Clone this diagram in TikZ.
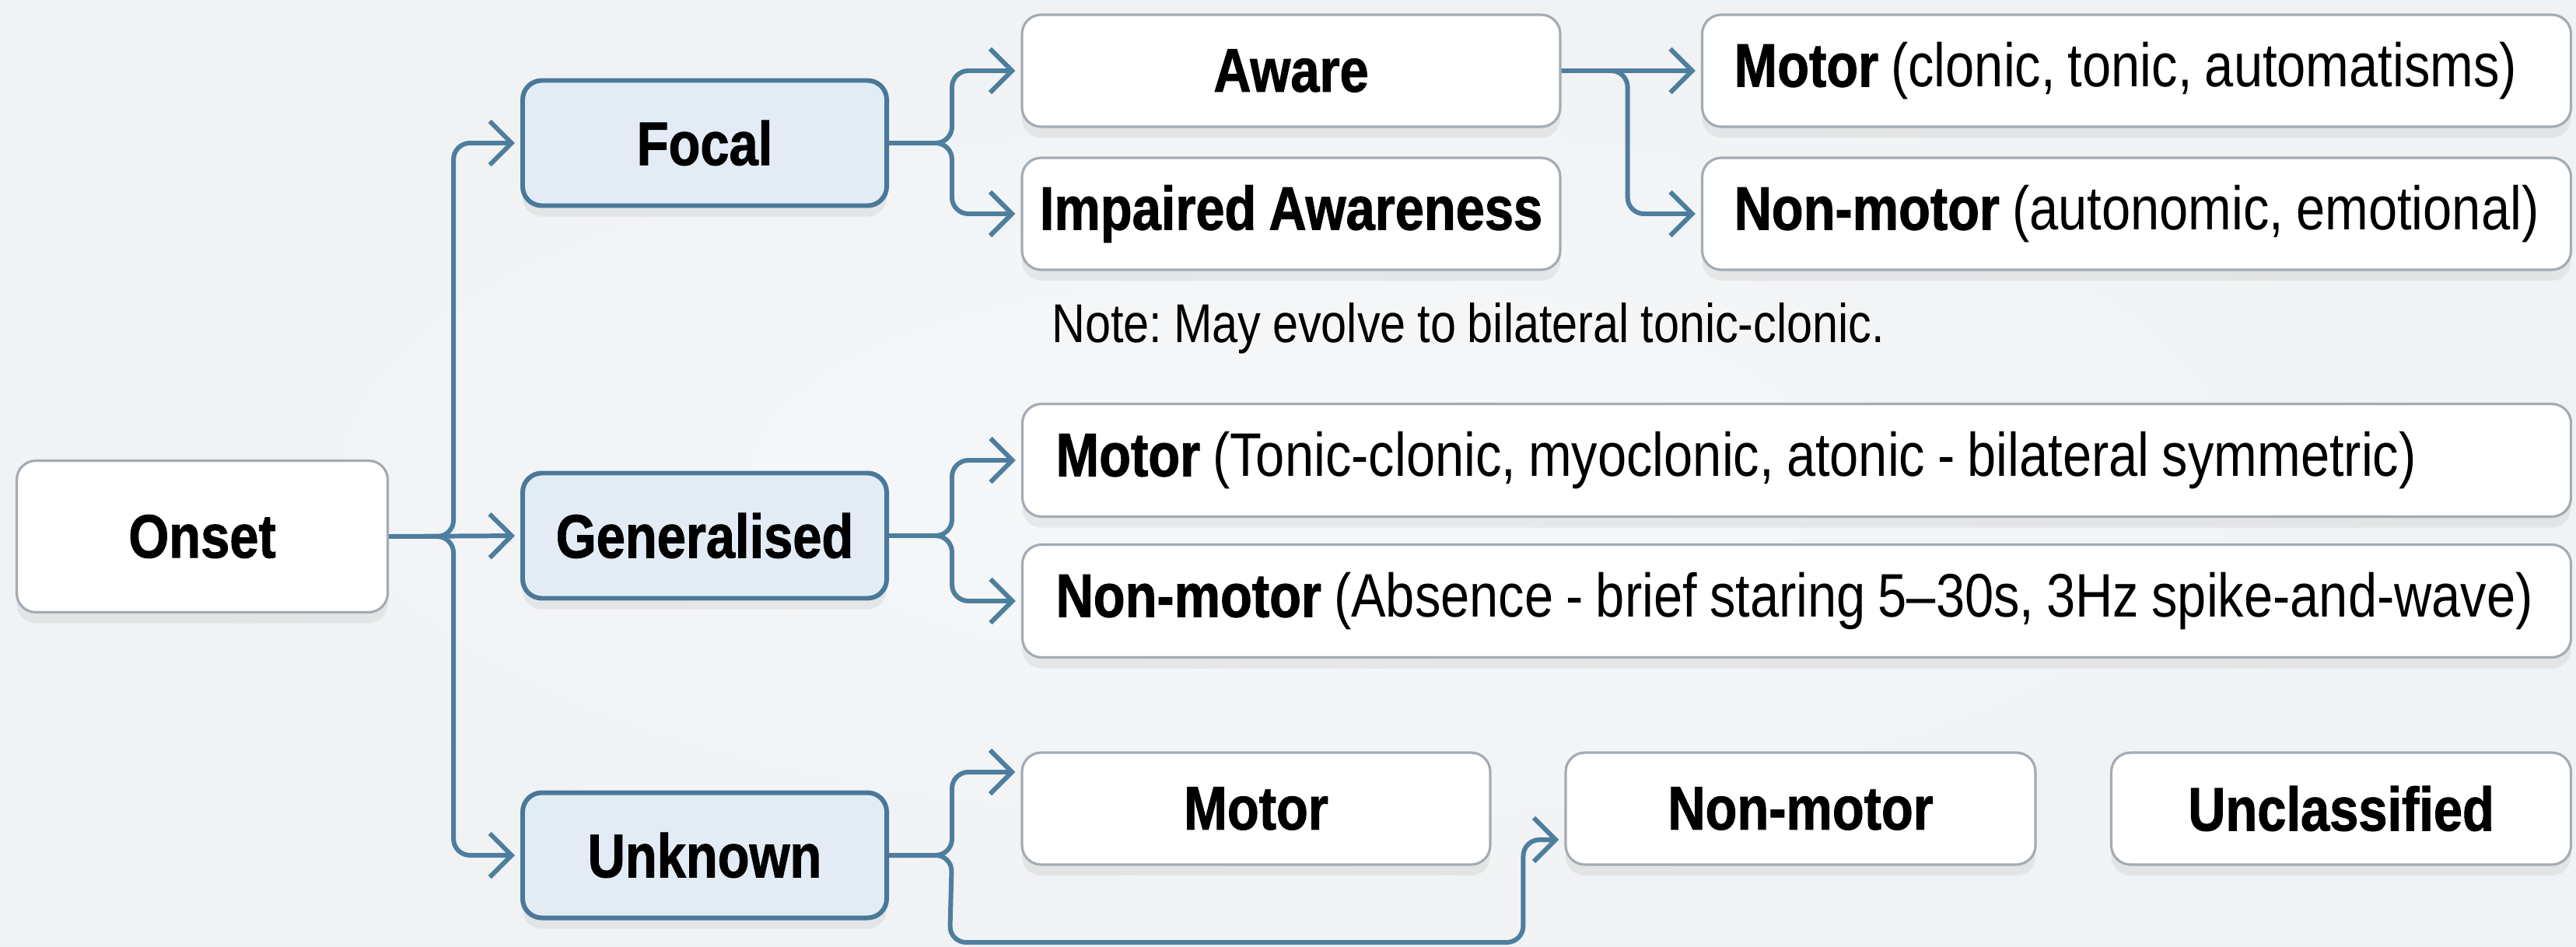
\documentclass[tikz,border=0pt]{standalone}
\usepackage{fontspec}
\setmainfont{Liberation Sans}[FakeStretch=0.845, BoldFeatures={FakeBold=1.2}]
\usepackage{xcolor}
\usetikzlibrary{arrows.meta,shadows}

\definecolor{linkblue}{HTML}{4E7E9E}
\definecolor{catfill}{HTML}{E3ECF5}
\definecolor{catedge}{HTML}{4A7898}
\definecolor{leafedge}{HTML}{A3ABB3}
\definecolor{pagebg}{HTML}{F2F4F6}

\frenchspacing
\newcommand{\boxline}[2]{\makebox[#1][l]{#2}}
\newcommand{\boxfont}{\fontsize{22.5}{27}\selectfont\spaceskip=4.6pt\relax}
\newcommand{\notefont}{\fontsize{20}{24}\selectfont\spaceskip=4.2pt\relax}

\begin{document}
\begin{tikzpicture}[
    box/.style={draw=leafedge, line width=0.9pt, fill=white, rounded corners=7pt,
        minimum height=1.44cm, inner sep=0pt, font=\boxfont,
        drop shadow={opacity=0.12, shadow xshift=0pt, shadow yshift=-4pt}},
    catbox/.style={box, draw=catedge, line width=1.7pt, fill=catfill,
        minimum width=4.68cm, minimum height=1.61cm},
    link/.style={draw=linkblue, line width=1.7pt, rounded corners=6pt,
        -{Straight Barb[length=8pt,width=16pt,line width=1.7pt]}, shorten >=2pt}
]
            \useasboundingbox (0,0) rectangle (33.12,12.17);
            \shade[inner color=white, outer color=pagebg!90!gray!40!pagebg] (0,0) rectangle (33.12,12.17);
            \fill[pagebg, opacity=0.6] (0,0) rectangle (33.12,12.17);

            \node[box, minimum width=4.77cm, minimum height=1.95cm] (onset) at (2.60, 5.27) {\textbf{Onset}};

            \node[catbox] (focal) at (9.06, 10.33) {\textbf{Focal}};
            \node[catbox] (general) at (9.06, 5.28) {\textbf{Generalised}};
            \node[catbox] (unknown) at (9.06, 1.17) {\textbf{Unknown}};

            \node[box, minimum width=6.92cm] (aware) at (16.60, 11.26) {\textbf{Aware}};
            \node[box, minimum width=6.92cm] (impaired) at (16.60, 9.42) {\textbf{Impaired Awareness}};
            \node[box, minimum width=11.17cm] (fmotor) at (27.47, 11.26) {\boxline{10.35cm}{\textbf{Motor} (clonic, tonic, automatisms)}};
            \node[box, minimum width=11.17cm] (fnonmotor) at (27.47, 9.42) {\boxline{10.35cm}{\textbf{Non-motor} (autonomic, emotional)}};
            \node[anchor=west, font=\notefont] (note) at (13.40, 7.95) {Note: May evolve to bilateral tonic-clonic.};

            \node[box, minimum width=19.91cm, minimum height=1.45cm] (gmotor) at (23.10, 6.25) {\boxline{19.05cm}{\textbf{Motor} (Tonic-clonic, myoclonic, atonic - bilateral symmetric)}};
            \node[box, minimum width=19.91cm, minimum height=1.45cm] (gnonmotor) at (23.10, 4.44) {\boxline{19.05cm}{\textbf{Non-motor} (Absence - brief staring 5--30s, 3Hz spike-and-wave)}};

            \node[box, minimum width=6.02cm] (umotor) at (16.15, 1.77) {\textbf{Motor}};
            \node[box, minimum width=6.04cm] (unonmotor) at (23.15, 1.77) {\textbf{Non-motor}};
            \node[box, minimum width=5.91cm] (unclass) at (30.10, 1.77) {\textbf{Unclassified}};

            \coordinate (low) at (12.21, 0.05);

            \draw[link] (onset.east) -- ++(0.83,0) |- (focal.west); % onset-focal
            \draw[link] (onset.east) -- (general.west); % onset-generalised
            \draw[link] (onset.east) -- ++(0.83,0) |- (unknown.west); % onset-unknown

            \draw[link] (focal.east) -- ++(0.81,0) |- (aware.west); % focal-aware
            \draw[link] (focal.east) -- ++(0.81,0) |- (impaired.west); % focal-impaired
            \draw[link] (aware.east) -- (fmotor.west); % aware-motor
            \draw[link] (aware.east) -- ++(0.85,0) |- (fnonmotor.west); % aware-nonmotor

            \draw[link] (general.east) -- ++(0.81,0) |- (gmotor.west); % gen-motor
            \draw[link] (general.east) -- ++(0.81,0) |- (gnonmotor.west); % gen-nonmotor

            \draw[link] (unknown.east) -- ++(0.81,0) |- ([yshift=4.7mm]umotor.west); % unknown-motor
            \draw[link] (unknown.east) -- ++(0.81,0) -- (low) -| ([xshift=-5.3mm,yshift=-4mm]unonmotor.west) -- ([yshift=-4mm]unonmotor.west); % unknown-nonmotor
\end{tikzpicture}
\end{document}
